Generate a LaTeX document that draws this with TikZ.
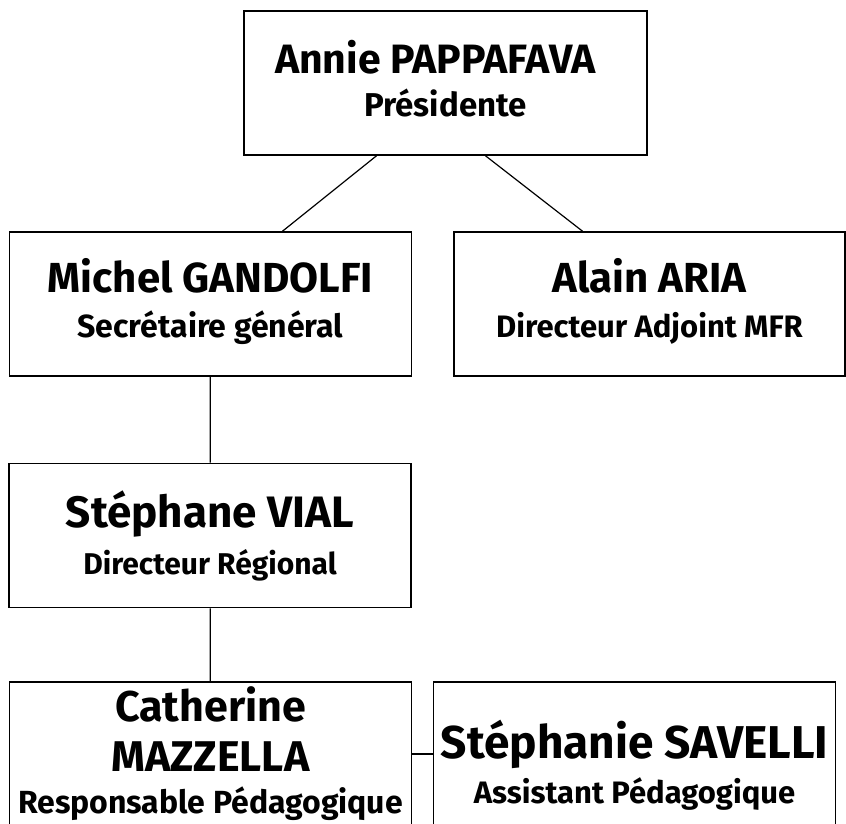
\documentclass[tikz,border=0pt]{standalone}
\usepackage{fontspec}
\setmainfont{Fira Sans}
\usetikzlibrary{positioning}

\newcommand{\namesize}[1]{\fontsize{#1}{#1}\selectfont}

\begin{document}
\begin{tikzpicture}[x=1pt, y=-1pt, line width=1.2pt]
  \tikzset{
    person/.style={draw, line width=1.6pt, minimum width=402pt, minimum height=144pt,
      inner sep=0pt, align=center, font=\bfseries\fontsize{31}{36}\selectfont},
  }
  \useasboundingbox (0,0) rectangle (846,824);
  % ===== Bureau =====
  \node[person, minimum width=403pt] (annie) at (445.5,83)
    {{\namesize{41}Annie PAPPAFAVA}\hspace*{20pt}\\[7pt]{\fontsize{33}{36}\selectfont Présidente}\hspace*{20pt}\\[-27pt]\mbox{}};
  \node[person] (gandolfi) at (210.5,304)
    {{\namesize{42}Michel GANDOLFI}\\[9pt]{\fontsize{32}{36}\selectfont Secrétaire général}\\[-24pt]\mbox{}};
  \node[person, minimum width=391pt] (aria) at (649.5,304)
    {{\namesize{42}Alain ARIA}\\[9pt]Directeur Adjoint MFR\\[-24pt]\mbox{}};
  % ===== Direction =====
  \node[person] (vial) at (210,535.5)
    {{\namesize{44}Stéphane VIAL}\\[11pt]{\fontsize{30}{36}\selectfont Directeur Régional}};
  \node[person] (mazzella) at (210.5,754)
    {{\namesize{43}Catherine}\\[14pt]{\namesize{43}MAZZELLA}\\[6pt]{\fontsize{32}{36}\selectfont Responsable Pédagogique}};
  \node[person] (savelli) at (634.5,754)
    {\mbox{}\\[22pt]{\namesize{46}Stéphanie SAVELLI}\\[8pt]Assistant Pédagogique};
  % ===== Liens =====
  \draw ([xshift=-69pt]annie.south) -- ([xshift=72pt]gandolfi.north);
  \draw ([xshift=40pt]annie.south) -- ([xshift=-67pt]aria.north);
  \draw (gandolfi) -- (vial);
  \draw (vial) -- (mazzella);
  \draw (mazzella) -- (savelli);
\end{tikzpicture}
\end{document}
